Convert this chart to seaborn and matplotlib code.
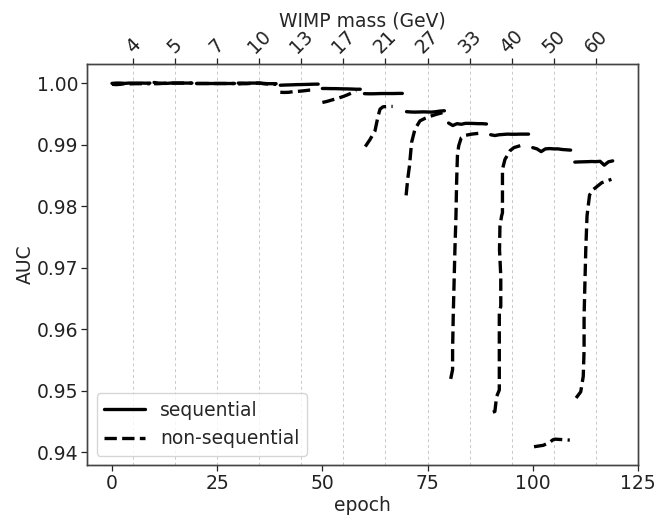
import numpy as np
import pandas as pd
import matplotlib
matplotlib.use("Agg")
import matplotlib.pyplot as plt
import seaborn as sns

# ---------------- data ----------------
wimp_mass_labels = ["4", "5", "7", "10", "13", "17", "21", "27", "33", "40", "50", "60"]
stage_centers = [5, 15, 25, 35, 45, 55, 65, 75, 85, 95, 105, 115]

# sequential training: AUC per epoch, one list per WIMP-mass stage (10 epochs each)
seq_auc = [
    [0.99995, 1.0, 1.0, 0.99995, 1.0, 1.0, 1.0, 1.0, 0.99998, 1.0],
    [1.0001, 1.0, 0.99995, 0.99995, 1.0, 1.0, 1.0, 1.0, 1.0, 1.0],
    [1.0, 1.0, 1.0, 1.0, 1.0, 1.0, 1.0, 1.0, 1.0, 1.0],
    [1.0, 1.0, 0.99998, 1.0, 1.0, 1.0, 0.99995, 0.9999, 0.9999, 0.9999],
    [0.99965, 0.99968, 0.9997, 0.99972, 0.99975, 0.99976, 0.99978, 0.9998, 0.99982, 0.99983],
    [0.99912, 0.99912, 0.9991, 0.9991, 0.99908, 0.99906, 0.99905, 0.99903, 0.999, 0.999],
    [0.99828, 0.99826, 0.99826, 0.99828, 0.9983, 0.9983, 0.9983, 0.9983, 0.99832, 0.99832],
    [0.99535, 0.9953, 0.99528, 0.9953, 0.99532, 0.9953, 0.99528, 0.99535, 0.99545, 0.9955],
    [0.9935, 0.9931, 0.9934, 0.9933, 0.99345, 0.99345, 0.99343, 0.9934, 0.9934, 0.99335],
    [0.9916, 0.99147, 0.9916, 0.99165, 0.9917, 0.99168, 0.99168, 0.9917, 0.9917, 0.9917],
    [0.9895, 0.9893, 0.98886, 0.9893, 0.98935, 0.9893, 0.9893, 0.9892, 0.98915, 0.9891],
    [0.98715, 0.98718, 0.9872, 0.98722, 0.98725, 0.98722, 0.98728, 0.98665, 0.9872, 0.98735],
]

# non-sequential training: (epoch, AUC) read per stage
nonseq_epochs = [
    [0, 1, 2, 3, 4, 5, 6, 7, 8, 9],
    [10, 11, 12, 13, 14, 15, 16, 17, 18, 19],
    [20, 21, 22, 23, 24, 25, 26, 27, 28, 29],
    [30, 31, 32, 33, 34, 35, 36, 37, 38, 39],
    [40, 41, 42, 43, 44, 45, 46, 47, 48],
    [50, 51, 52, 53, 54, 55, 56, 57, 58],
    [60.2, 61.3, 62.5, 63.2, 63.7, 64.4, 65.5, 66.7],
    [69.9, 70.3, 70.7, 71.2, 72.0, 73.2, 74.5, 75.5, 77.0, 78.7],
    [80.5, 80.95, 80.95, 81.1, 81.3, 81.5, 81.75, 81.9, 82.1, 82.4, 83.0, 84.0, 85.5, 87.4],
    [90.5, 91.0, 91.4, 92.05, 92.05, 92.05, 92.4, 92.4, 92.1, 92.2, 92.6, 92.8, 92.8, 93.4,
     94.6, 95.5, 97.4],
    [100.3, 102.5, 104.0, 104.8, 105.3, 108.8],
    [110.3, 111.4, 112.0, 112.2, 112.2, 112.4, 112.6, 112.9, 113.5, 114.4, 116.4, 118.7],
]
nonseq_auc = [
    [0.9998, 0.99975, 0.9998, 0.9999, 0.99985, 0.9999, 0.9999, 0.9999, 0.9999, 0.9999],
    [0.9999, 0.9999, 0.99995, 1.0, 1.0, 1.0, 1.0, 1.0, 1.0, 1.0],
    [0.99998, 0.99998, 0.99998, 0.99998, 0.99998, 0.99998, 0.99998, 0.99998, 0.99998, 0.99998],
    [0.99985, 0.9999, 0.9999, 0.99995, 1.0, 1.0, 0.9999, 0.99985, 0.9998, 0.9998],
    [0.9985, 0.99848, 0.9985, 0.9986, 0.99865, 0.9987, 0.99878, 0.99886, 0.9989],
    [0.99685, 0.997, 0.9972, 0.9974, 0.9976, 0.99783, 0.9981, 0.9984, 0.99875],
    [0.98968, 0.9908, 0.99222, 0.9945, 0.99576, 0.99614, 0.9962, 0.9962],
    [0.98174, 0.9845, 0.98652, 0.99033, 0.9925, 0.99386, 0.9943, 0.99457, 0.9949, 0.99522],
    [0.9519, 0.9534, 0.9566, 0.9621, 0.9675, 0.9729, 0.9784, 0.9838, 0.9882, 0.9898, 0.9911,
     0.9915, 0.9917, 0.99185],
    [0.9465, 0.9466, 0.949, 0.9501, 0.9566, 0.9627, 0.9637, 0.9686, 0.9729, 0.9767, 0.9784,
     0.9789, 0.986, 0.9876, 0.989, 0.9895, 0.9899],
    [0.94087, 0.9411, 0.94157, 0.942, 0.9421, 0.94195],
    [0.9488, 0.9498, 0.9523, 0.9566, 0.9621, 0.9675, 0.9729, 0.9784, 0.9818, 0.9827, 0.9838,
     0.98435],
]

rows = []
for k, vals in enumerate(seq_auc):
    for i, v in enumerate(vals):
        rows.append(dict(epoch=10 * k + i, auc=v, kind="sequential", unit=f"s{k}"))
for k, (xs, ys) in enumerate(zip(nonseq_epochs, nonseq_auc)):
    for x, v in zip(xs, ys):
        rows.append(dict(epoch=x, auc=v, kind="non-sequential", unit=f"n{k}"))
df = pd.DataFrame(rows)

# ---------------- plot ----------------
sns.set_theme(style="ticks")
plt.rcParams["font.family"] = ["DejaVu Sans"]
plt.rcParams["axes.edgecolor"] = "#444444"

fig = plt.figure(figsize=(6.68, 5.15), dpi=100)
ax = fig.add_axes([0.1305, 0.0971, 0.8245, 0.7786])

sns.lineplot(
    data=df, x="epoch", y="auc", style="kind", units="unit", estimator=None,
    sort=False, color="black", linewidth=2.4,
    dashes={"sequential": "", "non-sequential": (3.7, 1.6)},
    style_order=["sequential", "non-sequential"], ax=ax, legend=True,
)

ax.set_xlim(-5.9, 125)
ax.set_ylim(0.9379, 1.0031)
ax.set_xticks([0, 25, 50, 75, 100, 125])
yt = [0.94, 0.95, 0.96, 0.97, 0.98, 0.99, 1.00]
ax.set_yticks(yt)
ax.set_yticklabels([f"{t:.2f}" for t in yt])
ax.tick_params(axis="both", labelsize=13.5, length=4, width=0.9, pad=2.5, colors="#222222")
ax.set_xlabel("epoch", fontsize=13.5, labelpad=2)
ax.set_ylabel("AUC", fontsize=13.5, labelpad=1.5)
for s in ax.spines.values():
    s.set_linewidth(1.0)

ax2 = ax.twiny()
ax2.set_xlim(ax.get_xlim())
ax2.set_xticks(stage_centers)
ax2.set_xticklabels(wimp_mass_labels, rotation=45, fontsize=13.5)
ax2.tick_params(axis="x", length=4, width=0.9, pad=1.0, colors="#222222")
ax2.set_xlabel("WIMP mass (GeV)", fontsize=13.5, labelpad=0.5)
ax2.grid(True, axis="x", linestyle=(0, (3, 3)), color="#c8c8c8", linewidth=0.7)
ax2.set_axisbelow(True)
ax.set_zorder(ax2.get_zorder() + 1)
ax.patch.set_visible(False)
for s in ax2.spines.values():
    s.set_linewidth(1.0)

handles, labels = ax.get_legend_handles_labels()
hl = [(h, l) for h, l in zip(handles, labels) if l in ("sequential", "non-sequential")]
ax.legend([h for h, _ in hl], [l for _, l in hl], loc="lower left", fontsize=13.5,
          frameon=True, fancybox=True, framealpha=0.8, edgecolor="#cccccc",
          handlelength=2.2, borderpad=0.4)

fig.savefig("out.png", dpi=100)
